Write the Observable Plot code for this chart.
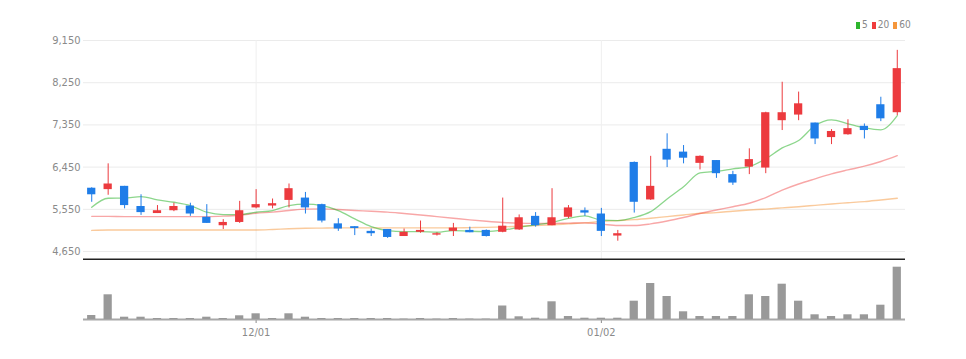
<!DOCTYPE html>
<html><head><meta charset="utf-8">
<script src="https://cdn.jsdelivr.net/npm/d3@7"></script>
<script src="https://cdn.jsdelivr.net/npm/@observablehq/plot@0.6"></script>
<style>
html,body{margin:0;padding:0;background:#fff;}
#wrap{position:relative;width:966px;height:359px;font-family:"Liberation Sans Narrow","Arial Narrow","DejaVu Sans Condensed",sans-serif;}
#wrap svg{display:block;}
#legend{position:absolute;top:19px;left:856px;font-size:10px;color:#888;display:flex;align-items:center;line-height:12px;}
#legend .sw{display:inline-block;width:4px;height:7px;margin-right:2px;}
#legend .lb{margin-right:4px;}
</style></head>
<body>
<div id="wrap">
  <div id="legend"></div>
  <div id="price"></div>
  <div id="vol"></div>
</div>
<script>
// ---- data ----
const dates = ["11/17","11/18","11/21","11/22","11/23","11/24","11/25","11/28","11/29","11/30",
  "12/01","12/02","12/05","12/06","12/07","12/08","12/09","12/12","12/13","12/14",
  "12/15","12/16","12/19","12/20","12/21","12/22","12/23","12/26","12/27","12/28",
  "12/29","01/02","01/03","01/04","01/05","01/06","01/09","01/10","01/11","01/12",
  "01/13","01/16","01/17","01/18","01/19","01/20","01/25","01/26","01/27","01/30"];
const openP  = [6000,5970,6040,5610,5460,5520,5620,5380,5200,5270, 5580,5620,5740,5790,5650,5240,5180,5080,5120,4970,
                5060,5000,5080,5100,5100,5060,5110,5400,5200,5380, 5520,5450,4980,6550,5750,6830,6770,6530,6590,6290,
                6450,6430,7440,7560,7390,7080,7140,7320,7780,7610];
const closeP = [5860,6090,5630,5480,5520,5610,5450,5250,5270,5520, 5650,5670,5990,5580,5300,5130,5140,5030,4950,5060,
                5100,5030,5150,5050,4970,5190,5370,5200,5370,5580, 5470,5080,5030,5700,6040,6600,6640,6680,6310,6110,
                6610,7610,7610,7800,7050,7210,7270,7230,7480,8550];
const highP  = [6010,6520,6040,5860,5630,5680,5680,5650,5330,5720, 5970,5770,6090,5910,5660,5350,5180,5130,5120,5130,
                5300,5050,5250,5170,5110,5790,5430,5480,5990,5630, 5580,5570,5100,6560,6680,7160,6910,6690,6590,6360,
                6840,7620,8260,8050,7390,7250,7460,7370,7940,8940];
const lowP   = [5700,5850,5560,5420,5460,5500,5400,5250,5120,5250, 5560,5560,5580,5450,5260,5080,4990,4970,4930,4970,
                5040,4980,4970,5050,4960,5050,5100,5170,5200,5350, 5400,4970,4870,5470,5740,6440,6520,6390,6210,6060,
                6290,6310,7230,7440,6930,6930,7130,7050,7420,7550];
const ma5  = [5594,5786,5790,5822,5752,5701,5631,5488,5439,5439, 5488,5524,5631,5660,5631,5524,5347,5182,5097,5076,
              5076,5061,5097,5082,5076,5105,5168,5218,5274,5355, 5410,5320,5311,5375,5500,5770,6030,6325,6362,6413,
              6462,6627,6861,7017,7337,7459,7373,7288,7245,7550];
const ma20 = [5400,5400,5395,5395,5395,5395,5395,5395,5405,5425, 5465,5490,5525,5555,5560,5545,5525,5510,5490,5460,
              5430,5395,5360,5325,5295,5270,5255,5250,5250,5255, 5260,5235,5205,5205,5240,5300,5375,5460,5535,5605,
              5680,5800,5960,6090,6200,6305,6390,6470,6570,6695];
const ma60 = [5100,5110,5110,5110,5110,5110,5110,5110,5110,5110, 5110,5120,5135,5145,5150,5155,5155,5155,5155,5155,
              5155,5155,5155,5160,5165,5175,5190,5205,5220,5240, 5260,5290,5310,5330,5360,5395,5430,5465,5480,5510,
              5535,5555,5580,5605,5635,5665,5690,5715,5750,5785];
const volume = [40000,247000,23000,23000,10000,10000,10000,23000,10000,37000, 57000,10000,57000,23000,10000,10000,10000,10000,10000,4000,
                10000,4000,10000,4000,4000,135000,27000,13000,177000,30000, 13000,13000,13000,183000,360000,230000,77000,30000,30000,30000,
                247000,230000,353000,183000,47000,30000,47000,47000,143000,523000];
const yTicks = [4650,5550,6450,7350,8250,9150];
const xTickIdx = [10,31];
const maNames = ["5","20","60"];

// ---- styling ----
const UP = "#ec3a3e", DOWN = "#1f7de8";
const maColors = ["#2db52d","#f03c3c","#f5963a"];
const fontFam = '"Liberation Sans Narrow","Arial Narrow","DejaVu Sans Condensed",sans-serif';

const rows = dates.map((d,i) => ({i, o: openP[i], c: closeP[i], h: highP[i], l: lowP[i],
  col: closeP[i] >= openP[i] ? UP : DOWN}));
const idx = d3.range(dates.length);
const vrows = idx.map(i => ({i, v: volume[i]}));

const price = Plot.plot({
  width: 966, height: 260,
  marginLeft: 83, marginRight: 61, marginTop: 40, marginBottom: 1,
  style: {fontFamily: fontFam, fontSize: "11px", color: "#8a8a8a", background: "transparent"},
  x: {type: "linear", domain: [-0.5, dates.length - 0.5], axis: null},
  y: {domain: [4480, 9150], ticks: yTicks, tickSize: 0, tickPadding: 3,
      tickFormat: d => d3.format(",")(d), label: null},
  color: {type: "identity"},
  marks: [
    Plot.ruleY(yTicks, {stroke: "#ebebeb"}),
    Plot.ruleX(xTickIdx, {stroke: "#efefef"}),
    Plot.line(idx, {x: i => i, y: i => ma60[i], stroke: maColors[2], strokeOpacity: 0.5, strokeWidth: 1.4, curve: "monotone-x"}),
    Plot.line(idx, {x: i => i, y: i => ma20[i], stroke: maColors[1], strokeOpacity: 0.45, strokeWidth: 1.4, curve: "monotone-x"}),
    Plot.line(idx, {x: i => i, y: i => ma5[i], stroke: maColors[0], strokeOpacity: 0.55, strokeWidth: 1.3, curve: "monotone-x"}),
    Plot.ruleX(rows, {x: "i", y1: "l", y2: "h", stroke: "col", strokeWidth: 1}),
    Plot.rect(rows, {x1: d => d.i - 0.5, x2: d => d.i + 0.5, y1: "o", y2: "c", fill: "col", insetLeft: 4.1, insetRight: 4.1}),
    Plot.ruleY([4480], {stroke: "#222", strokeWidth: 2})
  ]
});
document.getElementById("price").appendChild(price);

const vol = Plot.plot({
  width: 966, height: 99,
  marginLeft: 83, marginRight: 61, marginTop: 6, marginBottom: 40,
  style: {fontFamily: fontFam, fontSize: "11px", color: "#8a8a8a", background: "transparent"},
  x: {type: "linear", domain: [-0.5, dates.length - 0.5], ticks: xTickIdx, tickSize: 4, tickPadding: 5,
      tickFormat: i => dates[i], label: null},
  y: {domain: [0, 530000], axis: null},
  marks: [
    Plot.ruleY([0], {stroke: "#a8a8a8", strokeWidth: 2}),
    Plot.rectY(vrows, {x1: d => d.i - 0.5, x2: d => d.i + 0.5, y: "v", fill: "#999", insetLeft: 4.1, insetRight: 4.1})
  ]
});
document.getElementById("vol").appendChild(vol);

// legend
const lg = document.getElementById("legend");
maNames.forEach((n, k) => {
  const sw = document.createElement("span");
  sw.className = "sw"; sw.style.background = maColors[k];
  const lb = document.createElement("span");
  lb.className = "lb"; lb.textContent = n;
  lg.appendChild(sw); lg.appendChild(lb);
});
</script>
</body></html>
